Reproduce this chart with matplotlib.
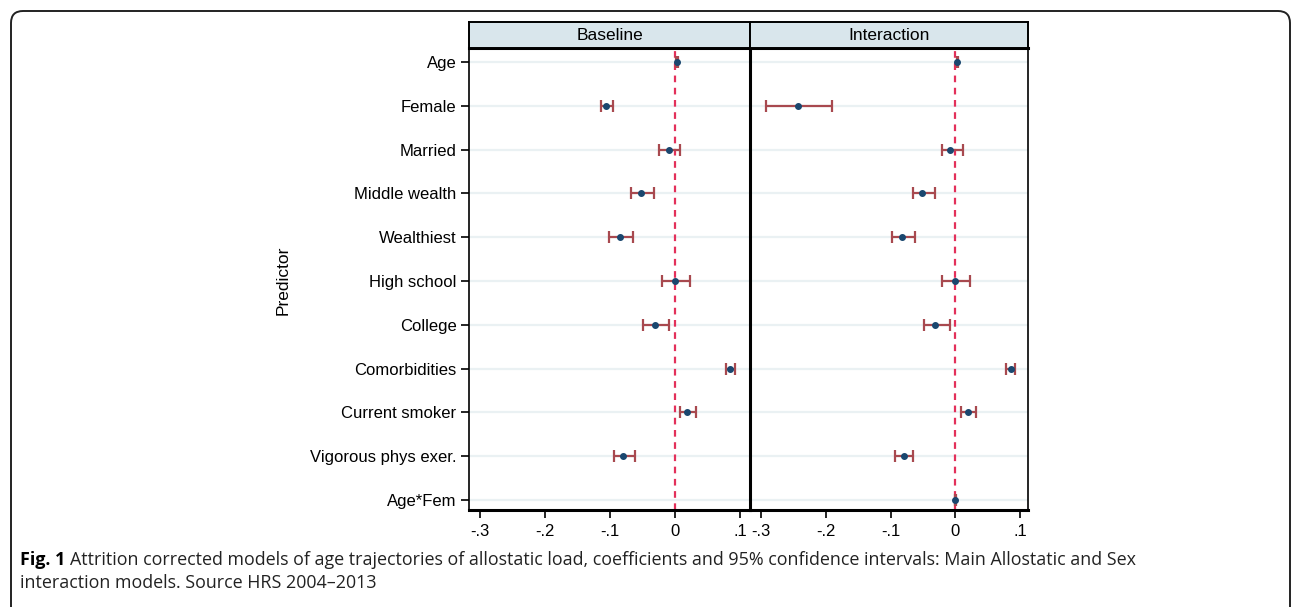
#!/usr/bin/env python3

import matplotlib
matplotlib.use("Agg")
import matplotlib.pyplot as plt
from matplotlib.patches import FancyBboxPatch

# predictors, top to bottom
predictors = ["Age", "Female", "Married", "Middle wealth", "Wealthiest",
              "High school", "College", "Comorbidities", "Current smoker",
              "Vigorous phys exer.", "Age*Fem"]

# baseline model (no Age*Fem term)
base_coef = [0.003, -0.106, -0.009, -0.052, -0.085, 0.000, -0.031, 0.085, 0.018, -0.080, None]
base_lo = [0.002, -0.114, -0.025, -0.068, -0.102, -0.020, -0.049, 0.078, 0.008, -0.094, None]
base_hi = [0.004, -0.095, 0.008, -0.032, -0.065, 0.022, -0.009, 0.092, 0.032, -0.062, None]

# interaction model
int_coef = [0.003, -0.243, -0.008, -0.052, -0.082, 0.000, -0.031, 0.085, 0.020, -0.080, 0.000]
int_lo = [0.002, -0.292, -0.020, -0.066, -0.098, -0.020, -0.049, 0.078, 0.009, -0.094, -0.001]
int_hi = [0.004, -0.191, 0.011, -0.032, -0.063, 0.022, -0.009, 0.092, 0.032, -0.065, 0.001]

panels = ["Baseline", "Interaction"]
xticks = [-0.3, -0.2, -0.1, 0.0, 0.1]
xticklabels = ["-.3", "-.2", "-.1", "0", ".1"]

W, H = 1292, 607
FONT = "Liberation Sans"
C_DOT = "#1a476f"
C_CI = "#a8494f"
C_ZERO = "#e3305a"
C_GRID = "#eaf1f3"
C_HEAD = "#d9e6ec"


def draw_panel(ax, coef, lo, hi, first, xlim):
    rows = range(len(predictors))
    for i in rows:
        ax.axhline(i, color=C_GRID, lw=1.6, zorder=0)
    ax.axvline(0, color=C_ZERO, lw=1.6, ls=(0, (3, 2.5)), zorder=1)
    ys = [i for i in rows if coef[i] is not None]
    c = [coef[i] for i in ys]
    el = [coef[i] - lo[i] for i in ys]
    eh = [hi[i] - coef[i] for i in ys]
    ax.errorbar(c, ys, xerr=[el, eh], fmt="none", ecolor=C_CI, elinewidth=1.6,
                capsize=4, capthick=1.6, zorder=2)
    ax.plot(c, ys, "o", color=C_DOT, ms=4, zorder=3)
    ax.set_ylim(10.23, -0.32)
    ax.set_xlim(*xlim)
    ax.set_xticks(xticks)
    ax.set_xticklabels(xticklabels, fontsize=12, family=FONT)
    ax.tick_params(axis="x", length=6, width=1.2, pad=4)
    ax.set_yticks(list(rows))
    if first:
        ax.set_yticklabels(predictors, fontsize=12, family=FONT)
        ax.tick_params(axis="y", length=6, width=1.2, pad=3)
        ax.spines["right"].set_visible(False)
        ax.spines["left"].set_linewidth(1.2)
    else:
        ax.set_yticklabels([])
        ax.tick_params(axis="y", length=0)
        ax.spines["left"].set_linewidth(2.2)
        ax.spines["right"].set_linewidth(1.2)
    ax.spines["bottom"].set_linewidth(2.2)
    ax.spines["top"].set_linewidth(2.2)


fig = plt.figure(figsize=(W / 100, H / 100), dpi=100)

# outer rounded frame
frame = FancyBboxPatch((0.11, -0.5), 12.79, 6.46, boxstyle="round,pad=0,rounding_size=0.12",
                       transform=fig.dpi_scale_trans, fill=False, ec="#222222", lw=1.4)
fig.patches.append(frame)

edges = [469, 750, 1028]
xlims = [(-0.317, 0.115), (-0.317, 0.112)]
top_px, bot_px, head_px = 48, 510, 22
datasets = [(base_coef, base_lo, base_hi), (int_coef, int_lo, int_hi)]
for k in range(2):
    l = edges[k] / W
    w = (edges[k + 1] - edges[k]) / W
    ax = fig.add_axes([l, 1 - bot_px / H, w, (bot_px - top_px) / H])
    draw_panel(ax, *datasets[k], first=(k == 0), xlim=xlims[k])
    hx = fig.add_axes([l, 1 - top_px / H, w, (top_px - head_px) / H])
    hx.set_facecolor(C_HEAD)
    hx.set_xticks([])
    hx.set_yticks([])
    for s in hx.spines.values():
        s.set_linewidth(1.4)
    hx.text(0.5, 0.48, panels[k], ha="center", va="center", fontsize=12.5, family=FONT,
            transform=hx.transAxes)

fig.text(283 / W, 1 - 280 / H, "Predictor", rotation=90, ha="center", va="center",
         fontsize=12.5, family=FONT)

cap_font = ["Open Sans", "DejaVu Sans"]
t = fig.text(20 / W, 1 - 560 / H, "Fig. 1", fontsize=12.9, fontweight="bold", family=cap_font,
             va="center", ha="left")
fig.canvas.draw()
bb = t.get_window_extent()
fig.text((bb.x1 + 5) / W, 1 - 560 / H,
         "Attrition corrected models of age trajectories of allostatic load, coefficients "
         "and 95% confidence intervals: Main Allostatic and Sex",
         fontsize=12.9, family=cap_font, va="center", ha="left", color="#222222")
fig.text(20 / W, 1 - 583 / H, "interaction models. Source HRS 2004\u20132013",
         fontsize=12.9, family=cap_font, va="center", ha="left", color="#222222")

fig.savefig("out.png", dpi=100)
